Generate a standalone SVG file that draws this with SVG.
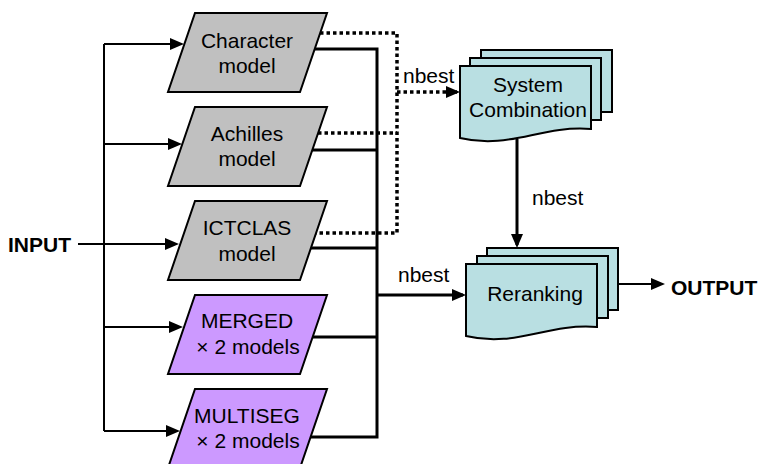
<svg xmlns="http://www.w3.org/2000/svg" width="760" height="464" viewBox="0 0 760 464">
<style>
text{font-family:"Liberation Sans",Arial,sans-serif;font-size:21px;fill:#000}
.b{font-weight:bold}
.c{text-anchor:middle}
.para{stroke:#000;stroke-width:2}
.gray{fill:#c0c0c0}
.purp{fill:#cc99ff}
.doc{fill:#b9dfe2;stroke:#000;stroke-width:2}
.thin{fill:none;stroke:#000;stroke-width:2}
.thick{fill:none;stroke:#000;stroke-width:3}
.dot{fill:none;stroke:#000;stroke-width:3.5;stroke-dasharray:3.5 3}
</style>
<defs>
<marker id="ah" viewBox="0 0 14 12" markerWidth="14" markerHeight="12" refX="11" refY="6" orient="auto" markerUnits="userSpaceOnUse">
<path d="M0,0 L14,6 L0,12 Z" fill="#000"/>
</marker>
<path id="para" d="M195,0 H327 L300,79 H168 Z"/>
<path id="docf" d="M0,0 H131 V63 C80,59 50,84 0,72 Z"/>
</defs>

<g id="connectors">
<path class="thin" d="M78,244 H176" marker-end="url(#ah)"/>
<path class="thin" d="M104,44 V431"/>
<path class="thin" d="M104,44 H181" marker-end="url(#ah)"/>
<path class="thin" d="M104,144 H179" marker-end="url(#ah)"/>
<path class="thin" d="M104,327 H180" marker-end="url(#ah)"/>
<path class="thin" d="M104,431 H177" marker-end="url(#ah)"/>
<path class="thick" d="M315,49 H377 V437 H311"/>
<path class="thick" d="M312,150 H377"/>
<path class="thick" d="M311,248 H377"/>
<path class="thick" d="M313,337 H377"/>
<path class="thick" d="M377,295 H463" marker-end="url(#ah)"/>
<path class="dot" d="M320,33 H397 V233 H316"/>
<path class="dot" d="M318,133 H397"/>
<path class="dot" d="M397,92 H457" marker-end="url(#ah)"/>
<path class="thick" d="M517,139 V245" marker-end="url(#ah)"/>
<path class="thin" d="M618,284 H662" marker-end="url(#ah)"/>
<text x="403" y="83">nbest</text>
<text x="532" y="205">nbest</text>
<text x="398" y="282">nbest</text>
</g>

<g id="input"><text class="b" x="8" y="252">INPUT</text></g>
<g id="output"><text class="b" x="671" y="295">OUTPUT</text></g>

<g id="character">
<use href="#para" class="para gray" y="13"/>
<text class="c" x="247" y="48">Character</text>
<text class="c" x="247" y="73">model</text>
</g>
<g id="achilles">
<use href="#para" class="para gray" y="107"/>
<text class="c" x="247" y="141">Achilles</text>
<text class="c" x="247" y="166">model</text>
</g>
<g id="ictclas">
<use href="#para" class="para gray" y="201"/>
<text class="c" x="247" y="235">ICTCLAS</text>
<text class="c" x="247" y="261">model</text>
</g>
<g id="merged">
<use href="#para" class="para purp" y="295"/>
<text class="c" x="247" y="328">MERGED</text>
<text class="c" x="248" y="354">× 2 models</text>
</g>
<g id="multiseg">
<use href="#para" class="para purp" y="389"/>
<text class="c" x="247" y="423">MULTISEG</text>
<text class="c" x="248" y="448">× 2 models</text>
</g>

<g id="system-combination">
<rect class="doc" x="481" y="50" width="131" height="62"/>
<rect class="doc" x="470" y="58" width="131" height="62"/>
<use href="#docf" class="doc" x="460" y="66"/>
<text class="c" x="528" y="92">System</text>
<text class="c" x="528" y="117">Combination</text>
</g>

<g id="reranking">
<rect class="doc" x="487" y="248" width="131" height="62"/>
<rect class="doc" x="477" y="256" width="131" height="62"/>
<use href="#docf" class="doc" x="466" y="264"/>
<text class="c" x="535" y="301">Reranking</text>
</g>
</svg>
